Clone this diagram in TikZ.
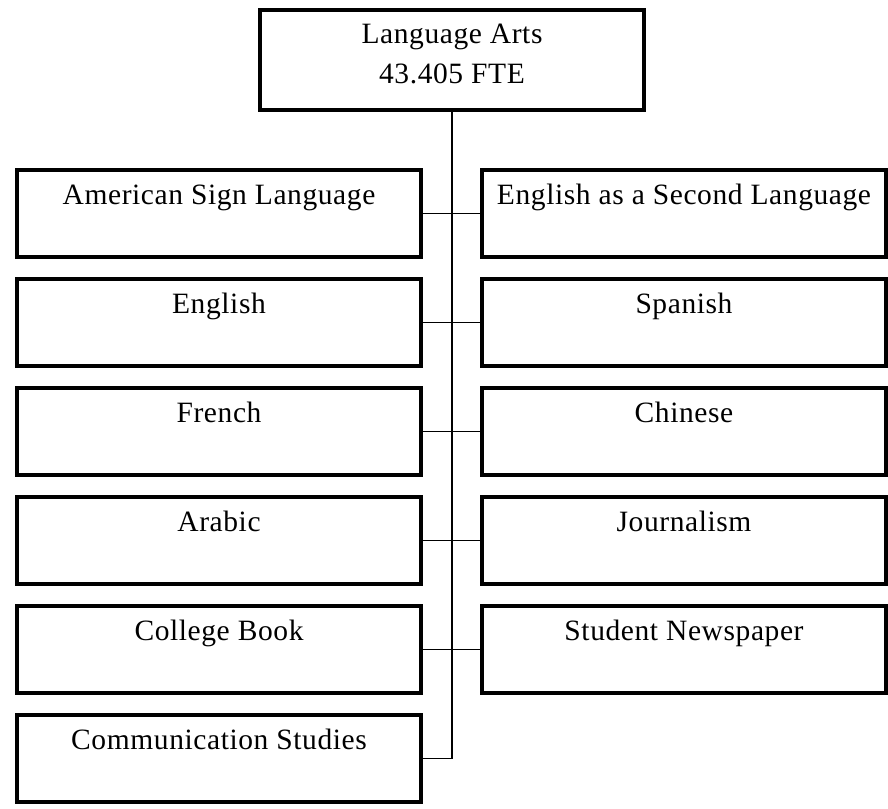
\documentclass[tikz,border=0pt]{standalone}
\usepackage{fontspec}
\setmainfont{Liberation Serif}[LetterSpace=2]
\begin{document}
\begin{tikzpicture}[x=1pt,y=-1pt,
  box/.style={draw, line width=4.5pt, minimum width=404pt, minimum height=87pt, inner sep=0pt, outer sep=0pt},
  topbox/.style={draw, line width=4.5pt, minimum width=384pt, minimum height=100pt, inner sep=0pt, outer sep=0pt},
  txt/.style={anchor=base, inner sep=0pt, font=\fontsize{29.5}{39}\selectfont},
  conn/.style={line width=1.3pt}]
\useasboundingbox (0,0) rectangle (888,808);
% top box
\node[topbox] (top) at (452,60) {};
\node[txt] (topa) at ([yshift=-34pt]top.north) {Language Arts};
\node[txt] (topb) at ([yshift=-73pt]top.north) {43.405 FTE};
% left column
\node[box] (asl) at (219,213.5) {};
\node[box] (eng) at (219,322.5) {};
\node[box] (fre) at (219,431.5) {};
\node[box] (ara) at (219,540.5) {};
\node[box] (col) at (219,649.5) {};
\node[box] (com) at (219,758.5) {};
% right column
\node[box] (esl) at (684,213.5) {};
\node[box] (spa) at (684,322.5) {};
\node[box] (chi) at (684,431.5) {};
\node[box] (jou) at (684,540.5) {};
\node[box] (stu) at (684,649.5) {};
% labels
\foreach \n/\t in {asl/American Sign Language, eng/English, fre/French, ara/Arabic, col/College Book, com/Communication Studies, esl/English as a Second Language, spa/Spanish, chi/Chinese, jou/Journalism, stu/Student Newspaper}
  \node[txt] (\n-t) at ([yshift=-34pt]\n.north) {\t};
% connectors
\coordinate (end) at (top.south |- com.east);
\draw[conn] (top.south) -- (end);
\draw[conn] (com.east) -- (end);
\draw[conn] (asl.east) -- (esl.west);
\draw[conn] (eng.east) -- (spa.west);
\draw[conn] (fre.east) -- (chi.west);
\draw[conn] (ara.east) -- (jou.west);
\draw[conn] (col.east) -- (stu.west);
\end{tikzpicture}
\end{document}
